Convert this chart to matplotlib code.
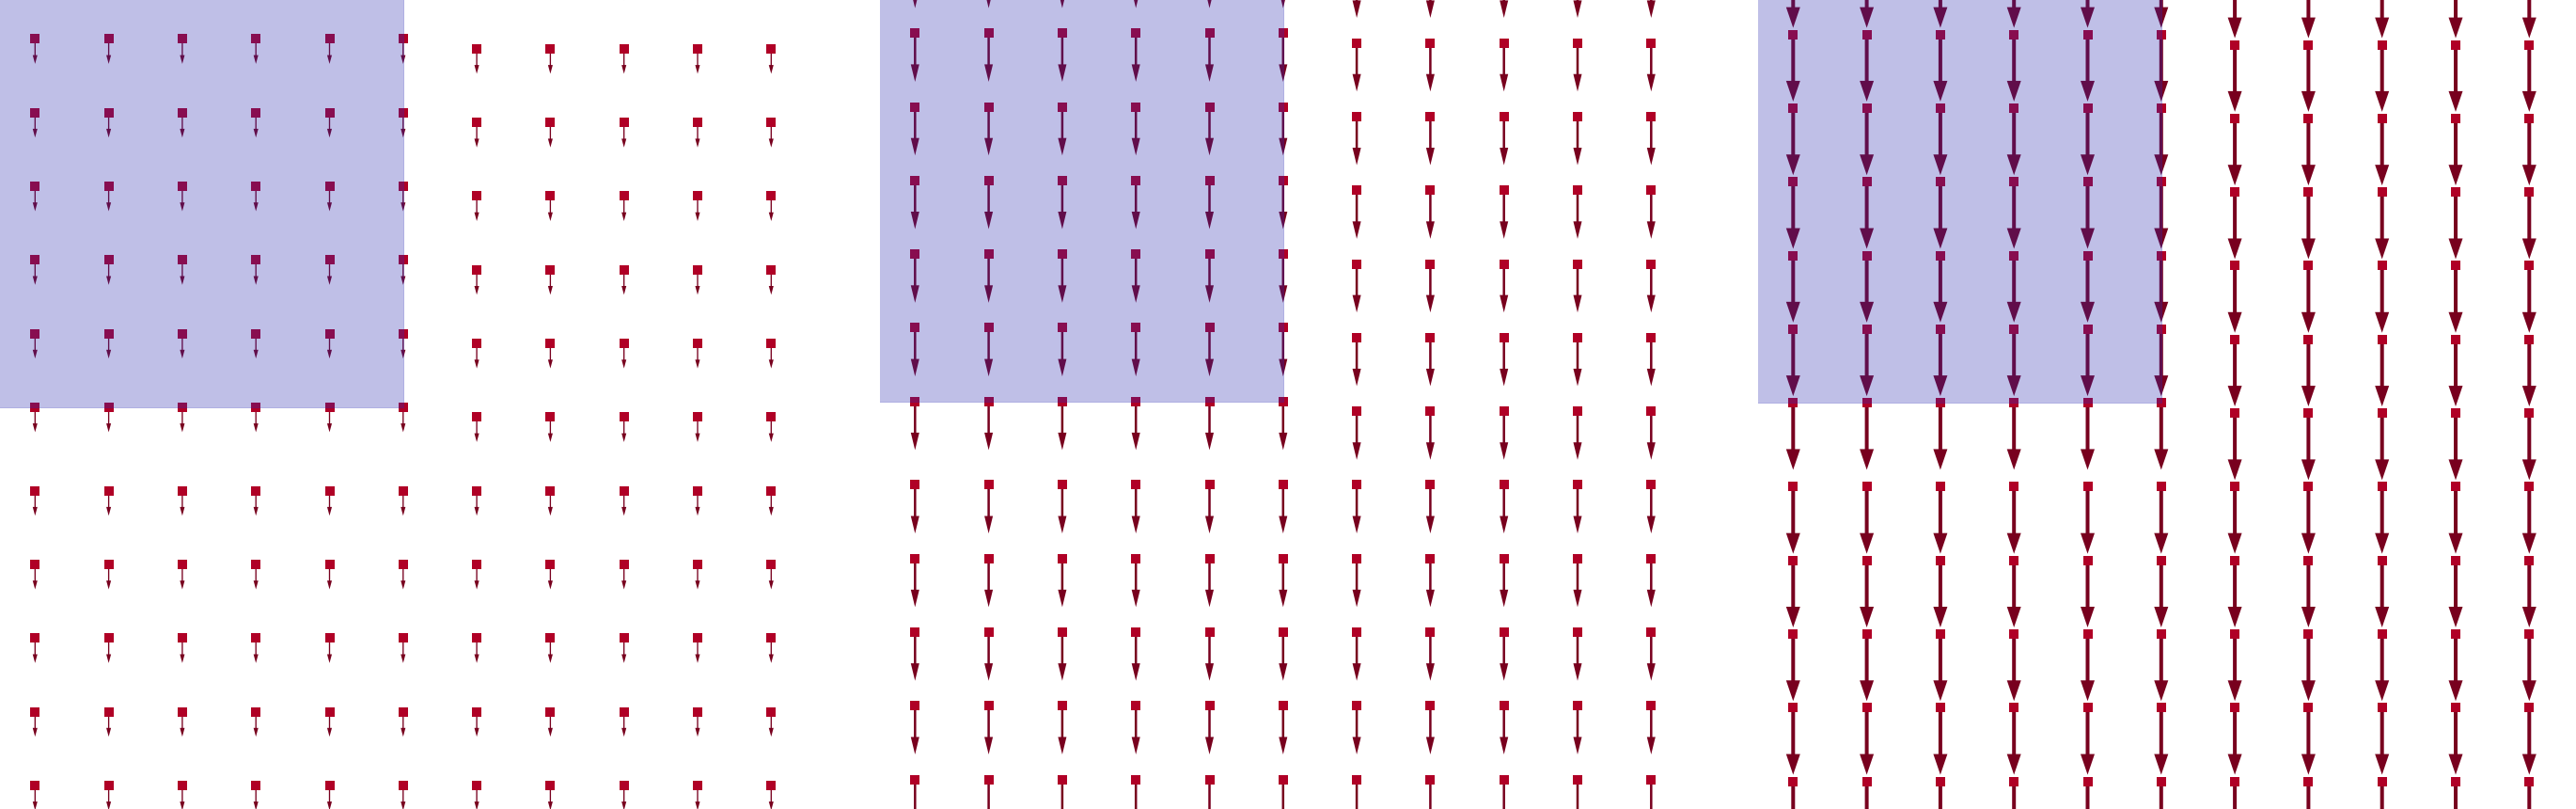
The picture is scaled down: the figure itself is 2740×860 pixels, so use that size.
import numpy as np
import matplotlib
matplotlib.use('Agg')
import matplotlib.pyplot as plt
from matplotlib.patches import Rectangle

# grid of sample points (same in every panel)
cols = [0, 1, 2, 3, 4, 5, 6, 7, 8, 9, 10]
rows = [-1, 0, 1, 2, 3, 4, 5, 6, 7, 8, 9, 10]

# shaded block: top-left corner of the grid, up to col 5 / row 5
patch_last_col = 5
patch_last_row = 5

# one value per panel
arrow_len = [0.34, 0.66, 0.91]      # downward displacement
patch_shift = [0.134, 0.132, 0.14]  # upward offset of points in the block

# arrow look per panel
shaft_w = [0.017, 0.032, 0.051]
head_w = [3.8, 3.6, 3.75]
head_l = [7.0, 7.4, 5.5]

sq_col = '#B00026'
arrow_col = '#78001E'
shade_col = (45 / 255, 45 / 255, 178 / 255)

# pixel layout of the reference
W, H = 2740, 860
cell = 78.3
col0_px = [37.3, 973.3, 1907.3]
row0_px = [51.8, 45.6, 47.6]
pad = 0.48
ax_w = 934

fig = plt.figure(figsize=(W / 100, H / 100), dpi=100)

X, Y = np.meshgrid(cols, rows)
inside = (X <= patch_last_col) & (Y <= patch_last_row)

for p in range(3):
    left = col0_px[p] - pad * cell
    ax = fig.add_axes([left / W, 0, ax_w / W, 1])
    ax.set_xlim(-pad, -pad + ax_w / cell)
    top = -row0_px[p] / cell
    ax.set_ylim(top + H / cell, top)
    ax.axis('off')

    Yp = Y - patch_shift[p] * inside
    U = np.zeros(X.shape)
    V = np.full(X.shape, arrow_len[p])

    ax.quiver(X, Yp, U, V, angles='xy', scale_units='xy', scale=1,
              units='xy', width=shaft_w[p], headwidth=head_w[p],
              headlength=head_l[p], headaxislength=head_l[p],
              color=arrow_col, zorder=2)
    ax.scatter(X.ravel(), Yp.ravel(), s=6.5 ** 2, marker='s', color=sq_col,
               linewidths=0, zorder=3)

    y_bot = patch_last_row - patch_shift[p]
    ax.add_patch(Rectangle((-pad - 1, top - 2), patch_last_col + pad + 1, y_bot - top + 2,
                           facecolor=shade_col, edgecolor=shade_col, lw=0.6,
                           alpha=0.3, zorder=4))

fig.savefig('out.png', dpi=100)
